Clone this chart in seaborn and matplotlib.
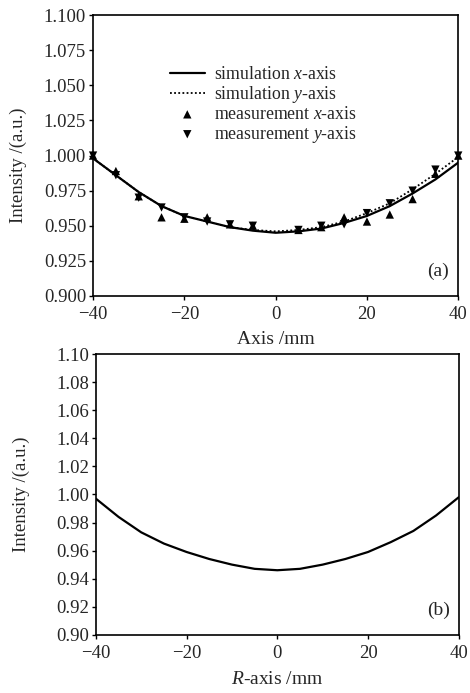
import numpy as np
import pandas as pd
import matplotlib
matplotlib.use("Agg")
import matplotlib.pyplot as plt
import seaborn as sns

# ==================================================
# DATA
# ==================================================
pos = [-40, -35, -30, -25, -20, -15, -10, -5, 0, 5, 10, 15, 20, 25, 30, 35, 40]

sim_x = [0.998, 0.986, 0.974, 0.964, 0.957, 0.953, 0.949, 0.9465, 0.945,
         0.946, 0.948, 0.952, 0.957, 0.964, 0.973, 0.983, 0.995]
sim_y = [0.998, 0.986, 0.974, 0.964, 0.957, 0.953, 0.949, 0.947, 0.946,
         0.947, 0.949, 0.953, 0.959, 0.966, 0.976, 0.987, 0.999]

meas_pos = [-40, -35, -30, -25, -20, -15, -10, -5, 5, 10, 15, 20, 25, 30, 35, 40]
meas_x = [1.000, 0.989, 0.971, 0.956, 0.955, 0.956, 0.951, 0.950,
          0.947, 0.949, 0.956, 0.953, 0.958, 0.969, 0.987, 1.000]
meas_y = [1.000, 0.986, 0.970, 0.963, 0.956, 0.953, 0.951, 0.950,
          0.947, 0.950, 0.951, 0.959, 0.966, 0.975, 0.990, 1.000]

r_sim = [0.997, 0.984, 0.973, 0.965, 0.959, 0.954, 0.950, 0.947, 0.946,
         0.947, 0.950, 0.954, 0.959, 0.966, 0.974, 0.985, 0.998]

x_ticks = [-40, -20, 0, 20, 40]
y_ticks_a = [0.900, 0.925, 0.950, 0.975, 1.000, 1.025, 1.050, 1.075, 1.100]
y_ticks_b = [0.90, 0.92, 0.94, 0.96, 0.98, 1.00, 1.02, 1.04, 1.06, 1.08, 1.10]

# ==================================================
# STYLE
# ==================================================
sns.set_style("ticks")
plt.rcParams['font.family'] = ['Liberation Serif', 'DejaVu Serif']
plt.rcParams['mathtext.fontset'] = 'custom'
plt.rcParams['mathtext.rm'] = 'Liberation Serif'
plt.rcParams['mathtext.it'] = 'Liberation Serif:italic'
plt.rcParams['axes.unicode_minus'] = True

TICK_FS = 13.5
LABEL_FS = 14
LEG_FS = 12.8

fig = plt.figure(figsize=(4.70, 6.93), dpi=100)
ax1 = fig.add_axes([0.198, 0.573, 0.777, 0.405])
ax2 = fig.add_axes([0.204, 0.084, 0.772, 0.405])

df_sim = pd.DataFrame({'pos': pos, 'sx': sim_x, 'sy': sim_y, 'r': r_sim})
df_meas = pd.DataFrame({'pos': meas_pos, 'mx': meas_x, 'my': meas_y})

# ==================================================
# PANEL (a)
# ==================================================
sns.lineplot(data=df_sim, x='pos', y='sx', ax=ax1, color='black', lw=1.6,
             label='simulation $x$-axis')
sns.lineplot(data=df_sim, x='pos', y='sy', ax=ax1, color='black', lw=1.3,
             linestyle=(0, (1, 1.3)), label='simulation $y$-axis')
sns.scatterplot(data=df_meas, x='pos', y='mx', ax=ax1, marker='^', color='black',
                s=36, edgecolor='none', label='measurement $x$-axis', clip_on=False, zorder=5)
sns.scatterplot(data=df_meas, x='pos', y='my', ax=ax1, marker='v', color='black',
                s=36, edgecolor='none', label='measurement $y$-axis', clip_on=False, zorder=5)

ax1.set_xlim(-40, 40)
ax1.set_ylim(0.9, 1.1)
ax1.set_xticks(x_ticks)
ax1.set_yticks(y_ticks_a)
ax1.set_yticklabels([f'{v:.3f}' for v in y_ticks_a])
ax1.set_xlabel('Axis /mm', labelpad=6, fontsize=LABEL_FS)
ax1.set_ylabel('Intensity /(a.u.)', fontsize=LABEL_FS - 0.5)
ax1.yaxis.set_label_coords(-0.18, 0.465)
ax1.text(0.975, 0.055, '(a)', transform=ax1.transAxes, ha='right', va='bottom', fontsize=14)
ax1.legend(loc='upper left', bbox_to_anchor=(0.185, 0.85), frameon=False,
           borderpad=0, handlelength=2.0, handletextpad=0.5, labelspacing=0.05,
           fontsize=LEG_FS)

# ==================================================
# PANEL (b)
# ==================================================
sns.lineplot(data=df_sim, x='pos', y='r', ax=ax2, color='black', lw=1.6)
ax2.set_xlim(-40, 40)
ax2.set_ylim(0.9, 1.1)
ax2.set_xticks(x_ticks)
ax2.set_yticks(y_ticks_b)
ax2.set_yticklabels([f'{v:.2f}' for v in y_ticks_b])
ax2.set_xlabel('$R$-axis /mm', labelpad=7, fontsize=LABEL_FS)
ax2.set_ylabel('Intensity /(a.u.)', fontsize=LABEL_FS - 0.5)
ax2.yaxis.set_label_coords(-0.182, 0.5)
ax2.text(0.975, 0.055, '(b)', transform=ax2.transAxes, ha='right', va='bottom', fontsize=14)

for ax in (ax1, ax2):
    for sp in ax.spines.values():
        sp.set_visible(True)
        sp.set_linewidth(1.2)
        sp.set_color('black')
    ax.tick_params(direction='out', length=3, width=1.0, color='black',
                   labelsize=TICK_FS, pad=2)
    ax.tick_params(axis='x', pad=4)

fig.savefig('out.png', dpi=100)
